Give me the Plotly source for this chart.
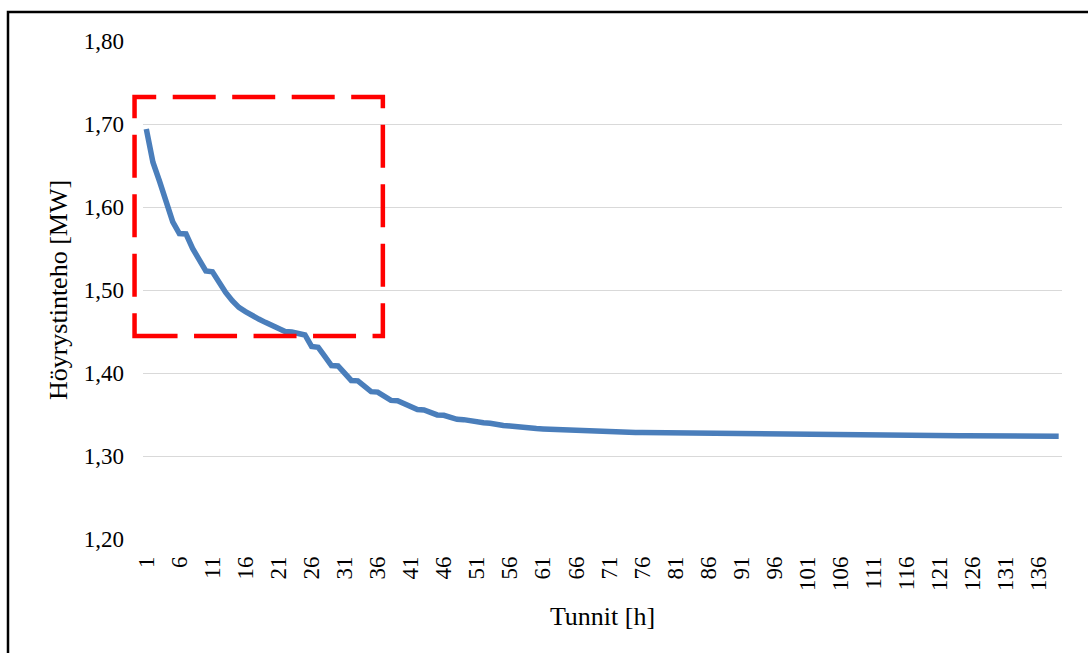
import plotly.graph_objects as go

# Hours (categories) 1..139
hours = [str(h) for h in range(1, 140)]

# Steam generator power [MW]
power = [
    1.694, 1.654, 1.631, 1.604, 1.582, 1.568, 1.5675, 1.550, 1.536, 1.523,
    1.522, 1.509, 1.497, 1.487, 1.479, 1.474, 1.469, 1.465, 1.461, 1.457,
    1.453, 1.450, 1.4494, 1.447, 1.4458, 1.432, 1.431, 1.420, 1.409, 1.4085,
    1.400, 1.391, 1.3905, 1.3835, 1.3775, 1.377, 1.372, 1.367, 1.3665, 1.3625,
    1.3585, 1.356, 1.3555, 1.3525, 1.3495, 1.349, 1.3465, 1.3442, 1.3438, 1.342,
    1.3406, 1.3401, 1.3395, 1.3375, 1.3368, 1.3362, 1.3350, 1.3345, 1.3340, 1.3330,
    1.3326, 1.3322, 1.3318, 1.3313, 1.3310, 1.3307, 1.3303, 1.3299, 1.3297, 1.3294,
    1.3292, 1.3290, 1.3288, 1.3286, 1.3284, 1.3282, 1.3281, 1.3280, 1.3278, 1.3277,
    1.3275, 1.3274, 1.3273, 1.3272, 1.3270, 1.3269, 1.3268, 1.3267, 1.3266, 1.3265,
    1.3264, 1.3263, 1.3262, 1.3261, 1.3260, 1.3259, 1.3258, 1.3258, 1.3257, 1.3256,
    1.3256, 1.3255, 1.3255, 1.3254, 1.3254, 1.3253, 1.3253, 1.3252, 1.3252, 1.3251,
    1.3251, 1.3250, 1.3250, 1.3249, 1.3249, 1.3248, 1.3248, 1.3247, 1.3247, 1.3246,
    1.3246, 1.3245, 1.3245, 1.3244, 1.3244, 1.3243, 1.3243, 1.3242, 1.3242, 1.3241,
    1.3241, 1.3240, 1.3240, 1.3239, 1.3239, 1.3238, 1.3238, 1.3237, 1.3237,
]

x_tick_labels = [str(h) for h in range(1, 140, 5)]
y_tick_values = [1.2, 1.3, 1.4, 1.5, 1.6, 1.7, 1.8]

x_title = "Tunnit [h]"
y_title = "Höyrystinteho [MW]"

FONT = "Liberation Serif"

fig = go.Figure()
fig.add_trace(go.Scatter(
    x=hours, y=power, mode="lines",
    line=dict(color="#4A7EBB", width=5.5),
    hoverinfo="x+y", showlegend=False,
))

fig.update_layout(
    width=1088, height=653,
    margin=dict(l=143, r=26, t=41, b=114),
    paper_bgcolor="white", plot_bgcolor="white",
    separators=", ",
    font=dict(family=FONT, size=23, color="#000000"),
    xaxis=dict(
        type="category",
        range=[-0.5, len(hours) - 0.5],
        tickmode="array", tickvals=x_tick_labels, ticktext=x_tick_labels,
        tickangle=-90, showgrid=False, showline=False, zeroline=False,
        ticks="", ticklabelstandoff=12,
        tickfont=dict(family=FONT, size=23, color="#000000"),
        title=dict(text=x_title, font=dict(family=FONT, size=26, color="#000000"), standoff=16),
        automargin=False,
    ),
    yaxis=dict(
        range=[1.2, 1.8], tickvals=y_tick_values, tickformat=".2f",
        showgrid=True, gridcolor="#D9D9D9", gridwidth=1.3,
        zeroline=False, showline=False, ticks="", ticklabelstandoff=18,
        tickfont=dict(family=FONT, size=23, color="#000000"),
        title=dict(text=y_title, font=dict(family=FONT, size=26, color="#000000"), standoff=8),
        automargin=False,
    ),
    shapes=[
        # outer chart border (black frame)
        dict(type="rect", xref="paper", yref="paper",
             x0=-0.1469, x1=1.06, y0=-0.35, y1=1.0582,
             line=dict(color="black", width=2.5), layer="above"),
        # red dashed highlight box
        dict(type="rect", xref="paper", yref="paper",
             x0=-0.0092, x1=0.2610, y0=0.4076, y1=0.8876,
             line=dict(color="#FF0000", width=4.5, dash="43px,16.5px"),
             layer="above"),
    ],
)

fig.write_html("out.html")
